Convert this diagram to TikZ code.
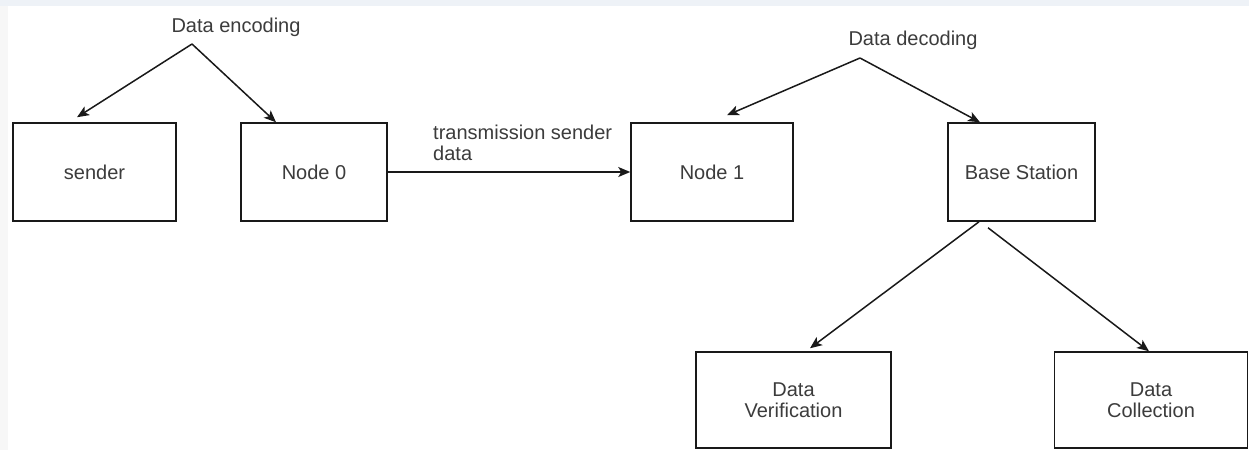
\documentclass[tikz,border=0pt]{standalone}
\usepackage{fontspec}
\setmainfont{Liberation Sans}
\usetikzlibrary{arrows.meta}
\definecolor{txt}{RGB}{60,60,60}
\definecolor{strip}{RGB}{238,242,247}
\tikzset{
  box/.style={draw=black!90, line width=1.5pt, rectangle, inner sep=0pt, text=txt,
    font=\fontsize{20}{21}\selectfont, align=center},
  lbl/.style={text=txt, font=\fontsize{20}{21}\selectfont, inner sep=0pt},
  arr/.style={draw=black!90, line width=1.5pt, -{Stealth[length=12pt,width=10pt,inset=3pt]}}
}
\begin{document}
\begin{tikzpicture}[x=1pt,y=-1pt]
\useasboundingbox (0,0) rectangle (1249,450);
\fill[white] (0,0) rectangle (1249,450);
\fill[strip] (0,0) rectangle (1249,6);
\fill[black!3] (0,6) rectangle (8,450);

% boxes
\node[box, minimum width=163pt, minimum height=98pt] (sender) at (94.5,172) {sender};
\node[box, minimum width=146pt, minimum height=98pt] (node0) at (314,172) {Node 0};
\node[box, minimum width=162pt, minimum height=98pt] (node1) at (712,172) {Node 1};
\node[box, minimum width=147pt, minimum height=98pt] (bs) at (1021.5,172) {Base Station};
\node[box, minimum width=195pt, minimum height=96pt] (dv) at (793.5,400) {Data\\Verification};
\node[box, minimum width=193pt, minimum height=96pt] (dc) at (1151,400) {Data\\Collection};

% labels
\node[lbl] (enc) at (236,27.5) {Data encoding};
\node[lbl] (dec) at (913,40) {Data decoding};
\node[lbl, anchor=west, align=left] (trans) at (433,142.5) {transmission sender\\data};

\coordinate (encA) at (192,44);
\coordinate (decA) at (860,58);

% connectors
\draw[arr] (encA) -- ([xshift=-17.5pt,yshift=5pt]sender.north);
\draw[arr] (encA) -- ([xshift=-38pt]node0.north);
\draw[arr] (decA) -- ([xshift=15pt,yshift=7pt]node1.north);
\draw[arr] (decA) -- ([xshift=-41.5pt]bs.north);
\draw[arr] (node0.east) -- (node1.west);
\draw[arr] ([xshift=-42.5pt]bs.south) -- ([xshift=16.5pt,yshift=3pt]dv.north);
\draw[arr] ([xshift=-33.5pt,yshift=-6pt]bs.south) -- ([xshift=-2pt]dc.north);
\end{tikzpicture}
\end{document}
